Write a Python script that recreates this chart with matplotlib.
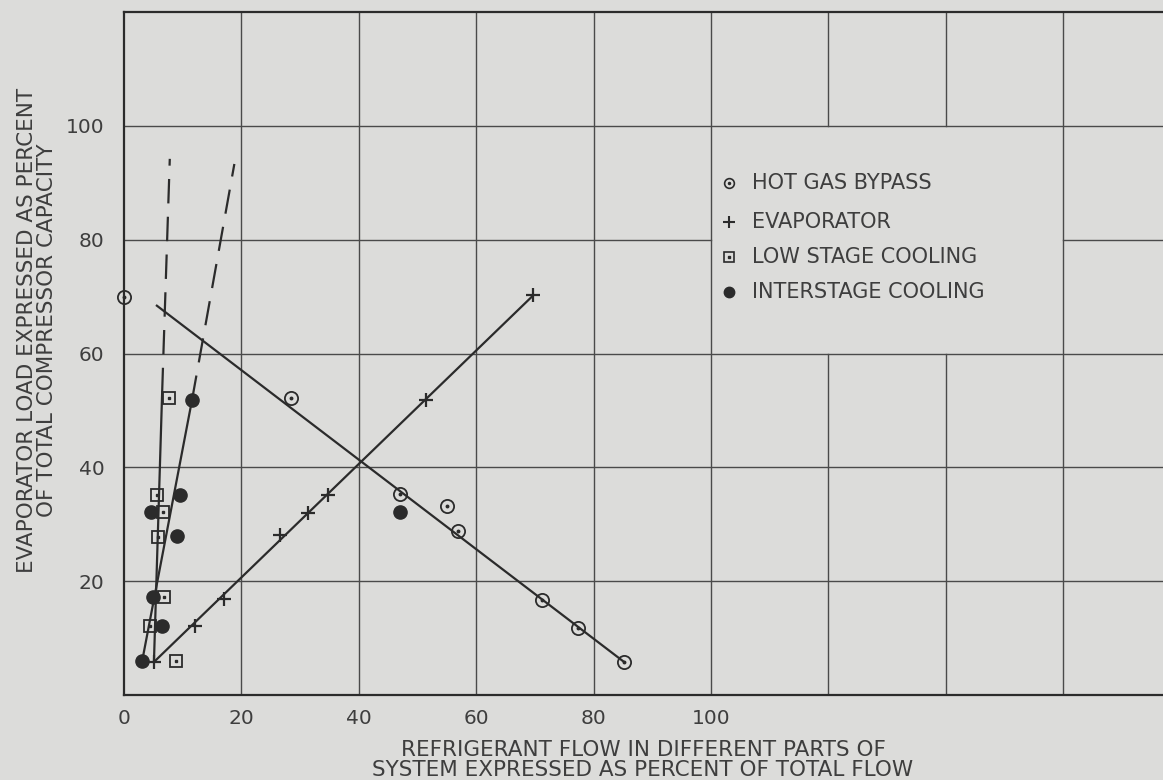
import matplotlib
matplotlib.use("Agg")
import matplotlib.pyplot as plt

# ---------------- data ----------------
hot_gas_x = [0.0, 28.4, 47.1, 55.0, 56.9, 71.2, 77.3, 85.2]
hot_gas_y = [70.0, 52.1, 35.3, 33.2, 28.9, 16.7, 11.8, 5.8]
hot_gas_line_x = [5.6, 85.2]
hot_gas_line_y = [68.4, 5.8]

evap_x = [5.1, 12.1, 17.0, 26.6, 31.4, 34.8, 51.4, 69.7]
evap_y = [5.8, 12.1, 16.8, 28.1, 31.9, 35.1, 51.9, 70.2]
evap_line_x = [5.1, 69.7]
evap_line_y = [5.8, 70.2]

low_x = [7.7, 5.6, 6.6, 5.8, 6.8, 4.4, 8.9]
low_y = [52.1, 35.1, 32.1, 27.7, 17.2, 12.1, 6.0]
low_line_x = [5.1, 6.5]          # solid part
low_line_y = [5.8, 53.2]
low_dash_x = [6.5, 7.8]          # dashed extrapolation
low_dash_y = [53.2, 94.2]

inter_x = [3.1, 11.6, 9.5, 4.6, 9.0, 4.9, 6.5, 47.0]
inter_y = [6.0, 51.9, 35.1, 32.1, 27.9, 17.2, 12.1, 32.1]
inter_line_x = [3.1, 11.6]
inter_line_y = [6.0, 51.9]
inter_dash_x = [11.6, 18.8]
inter_dash_y = [51.9, 93.3]

x_ticks = [0, 20, 40, 60, 80, 100]
y_ticks = [20, 40, 60, 80, 100]
grid_x = [20, 40, 60, 80, 100, 120, 140, 160]
grid_y = [20, 40, 60, 80, 100]
x_max, y_max = 177.0, 120.0
legend_box = (100, 160, 60, 100)   # x0, x1, y0, y1 : area left blank for key

legend_labels = ["HOT GAS BYPASS", "EVAPORATOR", "LOW STAGE COOLING",
                 "INTERSTAGE COOLING"]

xlabel = "REFRIGERANT FLOW IN DIFFERENT PARTS OF\nSYSTEM EXPRESSED AS PERCENT OF TOTAL FLOW"
ylabel = "EVAPORATOR LOAD EXPRESSED AS PERCENT\nOF TOTAL COMPRESSOR CAPACITY"

# ---------------- styling ----------------
BG = "#dcdcda"
INK = "#2b2b2b"
GRID = "#4a4a4a"
TXT = "#3e3e3e"
FONT = ["DejaVu Sans"]

W, H = 1163, 780
fig = plt.figure(figsize=(W / 100, H / 100), dpi=100, facecolor=BG)
ax = fig.add_axes([124 / W, 85 / H, (W - 124) / W, (695 - 12) / H])
ax.set_facecolor(BG)
ax.set_xlim(0, x_max)
ax.set_ylim(0, y_max)

# grid with a blank panel for the key
lx0, lx1, ly0, ly1 = legend_box
for gx in grid_x:
    if lx0 < gx < lx1:
        ax.plot([gx, gx], [0, ly0], color=GRID, lw=1.0, zorder=1)
        ax.plot([gx, gx], [ly1, y_max], color=GRID, lw=1.0, zorder=1)
    else:
        ax.plot([gx, gx], [0, y_max], color=GRID, lw=1.0, zorder=1)
for gy in grid_y:
    if ly0 < gy < ly1:
        ax.plot([0, lx0], [gy, gy], color=GRID, lw=1.0, zorder=1)
        ax.plot([lx1, x_max], [gy, gy], color=GRID, lw=1.0, zorder=1)
    else:
        ax.plot([0, x_max], [gy, gy], color=GRID, lw=1.0, zorder=1)

for side in ["left", "bottom", "top"]:
    ax.spines[side].set_color(INK)
    ax.spines[side].set_linewidth(1.6)
ax.spines["right"].set_visible(False)

ax.set_xticks(x_ticks)
ax.set_xticklabels([str(v) for v in x_ticks])
ax.set_yticks(y_ticks)
ax.set_yticklabels([str(v) for v in y_ticks])
ax.tick_params(axis="both", length=0, colors=TXT, labelsize=14.5)
ax.tick_params(axis="x", pad=10)
ax.tick_params(axis="y", pad=14)
for lab in ax.get_xticklabels() + ax.get_yticklabels():
    lab.set_family(FONT)

# fitted lines
lw = 1.6
ax.plot(hot_gas_line_x, hot_gas_line_y, color=INK, lw=lw, zorder=3)
ax.plot(evap_line_x, evap_line_y, color=INK, lw=lw, zorder=3)
ax.plot(low_line_x, low_line_y, color=INK, lw=lw, zorder=3)
ax.plot(low_dash_x, low_dash_y, color=INK, lw=lw, zorder=3, dashes=(11, 6))
ax.plot(inter_line_x, inter_line_y, color=INK, lw=lw, zorder=3)
ax.plot(inter_dash_x, inter_dash_y, color=INK, lw=lw, zorder=3, dashes=(11, 6))

# data points
ax.plot(hot_gas_x, hot_gas_y, ls="none", marker="o", ms=9.5, mfc="none",
        mec=INK, mew=1.3, zorder=4, clip_on=False)
ax.plot(hot_gas_x, hot_gas_y, ls="none", marker="o", ms=1.8, mfc=INK,
        mec=INK, zorder=4, clip_on=False)
ax.plot(evap_x, evap_y, ls="none", marker="+", ms=10, mew=1.6, color=INK,
        zorder=4)
ax.plot(low_x, low_y, ls="none", marker="s", ms=8.5, mfc="none", mec=INK,
        mew=1.3, zorder=4)
ax.plot(low_x, low_y, ls="none", marker="s", ms=1.8, mfc=INK, mec=INK,
        zorder=4)
ax.plot(inter_x, inter_y, ls="none", marker="o", ms=9.5, mfc=INK, mec=INK,
        zorder=4)

# key (drawn inside the blank panel)
key_rows_px = [183, 222, 257, 292]
key_marker_px = 729
key_text_px = 752
for i, (label, row) in enumerate(zip(legend_labels, key_rows_px)):
    fy = (H - row) / H
    mx = key_marker_px / W
    if i == 0:
        fig.lines.append(plt.Line2D([mx], [fy], transform=fig.transFigure,
                         marker="o", ms=7, mfc="none", mec=INK, mew=1.2))
        fig.lines.append(plt.Line2D([mx], [fy], transform=fig.transFigure,
                         marker="o", ms=1.5, mfc=INK, mec=INK))
    elif i == 1:
        fig.lines.append(plt.Line2D([mx], [fy], transform=fig.transFigure,
                         marker="+", ms=8, mew=1.5, color=INK))
    elif i == 2:
        fig.lines.append(plt.Line2D([mx], [fy], transform=fig.transFigure,
                         marker="s", ms=6.5, mfc="none", mec=INK, mew=1.2))
        fig.lines.append(plt.Line2D([mx], [fy], transform=fig.transFigure,
                         marker="s", ms=1.5, mfc=INK, mec=INK))
    else:
        fig.lines.append(plt.Line2D([mx], [fy], transform=fig.transFigure,
                         marker="o", ms=7.5, mfc=INK, mec=INK))
    fig.text(key_text_px / W, fy, label, ha="left", va="center",
             fontsize=15, color=TXT, family=FONT)

# axis titles
fig.text(643 / W, (H - 760) / H, xlabel, ha="center", va="center",
         fontsize=15.5, color=TXT, family=FONT, linespacing=0.95,
         multialignment="center")
fig.text(37 / W, (H - 330) / H, ylabel, ha="center", va="center",
         rotation=90, fontsize=15.5, color=TXT, family=FONT,
         linespacing=1.0, multialignment="center")

fig.savefig("out.png", dpi=100, facecolor=BG)
